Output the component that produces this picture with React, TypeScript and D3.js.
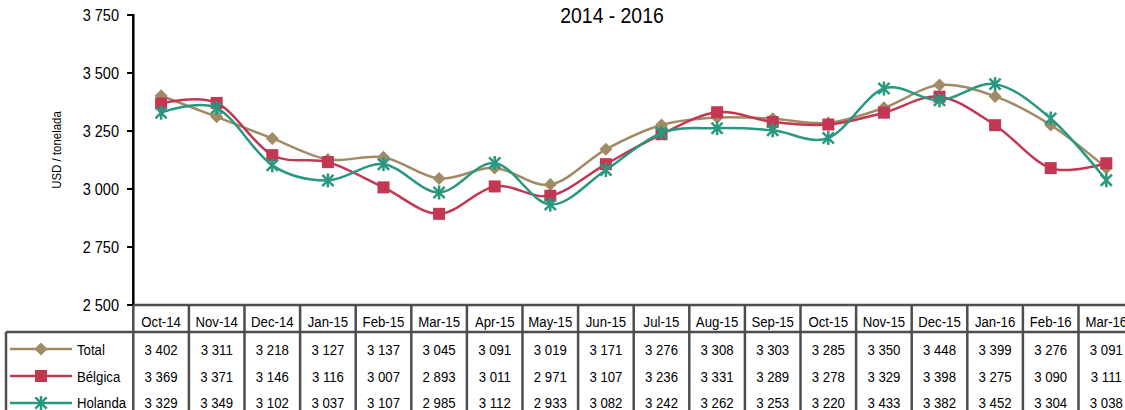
import React from "react";
import * as d3 from "d3";

const categories = ["Oct-14","Nov-14","Dec-14","Jan-15","Feb-15","Mar-15","Apr-15","May-15","Jun-15","Jul-15","Aug-15","Sep-15","Oct-15","Nov-15","Dec-15","Jan-16","Feb-16","Mar-16"];
const total = [3402,3311,3218,3127,3137,3045,3091,3019,3171,3276,3308,3303,3285,3350,3448,3399,3276,3091];
const belgica = [3369,3371,3146,3116,3007,2893,3011,2971,3107,3236,3331,3289,3278,3329,3398,3275,3090,3111];
const holanda = [3329,3349,3102,3037,3107,2985,3112,2933,3082,3242,3262,3253,3220,3433,3382,3452,3304,3038];
const yTicks = [2500,2750,3000,3250,3500,3750];
const title = "2014 - 2016";
const yLabel = "USD / tonelada";

const series = [
  { name: "Total", values: total, color: "#a08b66", marker: "diamond" },
  { name: "Bélgica", values: belgica, color: "#c43752", marker: "square" },
  { name: "Holanda", values: holanda, color: "#289880", marker: "star" },
];

const fmt = (v: number) => {
  const s = String(v);
  return s.length > 3 ? s.slice(0, s.length - 3) + "\u2009".replace("\u2009", " ") + s.slice(-3) : s;
};

const FONT = "'Liberation Sans', Arial, sans-serif";
const SX = 0.88;

function T({ x, y, size, anchor = "middle", children, rotate = 0 }: any) {
  return (
    <g transform={`translate(${x},${y}) rotate(${rotate}) scale(${SX},1)`}>
      <text x={0} y={0} fontSize={size} fontFamily={FONT} textAnchor={anchor} fill="#000">{children}</text>
    </g>
  );
}

function Marker({ type, x, y, color }: any) {
  if (type === "diamond") {
    const r = 6.5;
    return <path d={`M${x},${y - r}L${x + r},${y}L${x},${y + r}L${x - r},${y}Z`} fill={color} />;
  }
  if (type === "square") {
    const r = 6;
    return <rect x={x - r} y={y - r} width={2 * r} height={2 * r} fill={color} />;
  }
  const r = 7;
  const d = r * 0.8;
  return (
    <g stroke={color} strokeWidth={2.5}>
      <line x1={x} y1={y - r} x2={x} y2={y + r} />
      <line x1={x - d} y1={y - d} x2={x + d} y2={y + d} />
      <line x1={x - d} y1={y + d} x2={x + d} y2={y - d} />
    </g>
  );
}

export default function App() {
  const W = 1125, H = 410;
  const left = 133.3;
  const colW = 55.6;
  const top = 15, bottom = 305;
  const y = d3.scaleLinear().domain([2500, 3750]).range([bottom, top]);
  const x = d3.scaleBand<string>().domain(categories).range([left, left + colW * categories.length]);
  const cx = (c: string) => (x(c) as number) + x.bandwidth() / 2;
  const line = d3.line<number>().x((_, i) => cx(categories[i])).y((v) => y(v)).curve(d3.curveCardinal.tension(0));

  const headerTop = 305, dataTop = 332, tableBottom = 420;
  const rowBase = [355, 382, 408];
  const rowMid = [349, 376, 403];
  const right = left + colW * categories.length;
  const grid = "#4d4d4d";

  return (
    <svg width={W} height={H} style={{ position: "absolute", left: 0, top: 0, background: "#fff" }}>
      <T x={612} y={23} size={22}>{title}</T>
      <T x={61} y={150} size={13} rotate={-90}>{yLabel}</T>

      {yTicks.map((t) => (
        <g key={t}>
          <line x1={127} x2={left} y1={y(t)} y2={y(t)} stroke="#000" strokeWidth={2} />
          <T x={119} y={y(t) + 6} size={16.5} anchor="end">{fmt(t)}</T>
        </g>
      ))}
      <line x1={left} x2={left} y1={top - 1} y2={bottom + 1} stroke="#000" strokeWidth={2.5} />

      {series.map((s) => (
        <g key={s.name}>
          <path d={line(s.values) as string} fill="none" stroke={s.color} strokeWidth={2.5} />
          {s.values.map((v, i) => (
            <Marker key={i} type={s.marker} x={cx(categories[i])} y={y(v)} color={s.color} />
          ))}
        </g>
      ))}

      {/* table */}
      <g stroke={grid} strokeWidth={2.5} fill="none">
        <line x1={left} x2={right} y1={headerTop} y2={headerTop} />
        <line x1={6} x2={right} y1={dataTop} y2={dataTop} />
        <line x1={6} x2={6} y1={dataTop} y2={tableBottom} />
        {categories.map((c, i) => (
          <line key={c} x1={left + colW * i} x2={left + colW * i} y1={headerTop} y2={tableBottom} />
        ))}
        <line x1={right} x2={right} y1={headerTop} y2={tableBottom} />
      </g>
      {categories.map((c) => (
        <T key={c} x={cx(c)} y={327} size={15}>{c}</T>
      ))}
      {series.map((s, r) => (
        <g key={s.name}>
          <line x1={10} x2={72} y1={rowMid[r]} y2={rowMid[r]} stroke={s.color} strokeWidth={2.5} />
          <Marker type={s.marker} x={41} y={rowMid[r]} color={s.color} />
          <T x={77} y={rowBase[r]} size={15} anchor="start">{s.name}</T>
          {s.values.map((v, i) => (
            <T key={i} x={cx(categories[i])} y={rowBase[r]} size={15}>{fmt(v)}</T>
          ))}
        </g>
      ))}
    </svg>
  );
}
